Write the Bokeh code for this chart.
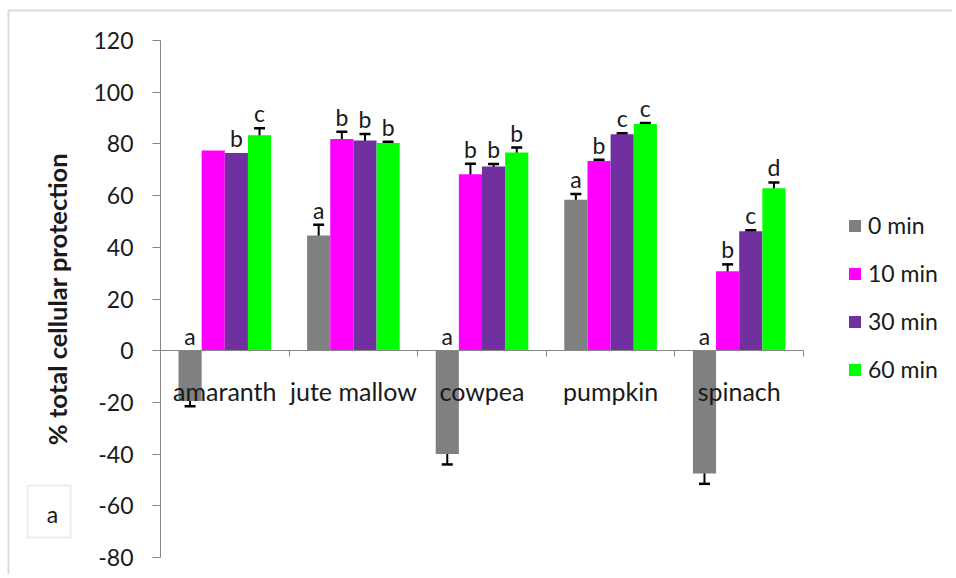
from bokeh.plotting import figure
from bokeh.models import (ColumnDataSource, Whisker, TeeHead, Legend, LegendItem,
                          FixedTicker, BoxAnnotation, Label)
from bokeh.core.properties import value
from bokeh.embed import file_html
from bokeh.resources import INLINE

categories = ["amaranth", "jute mallow", "cowpea", "pumpkin", "spinach"]
series = ["0 min", "10 min", "30 min", "60 min"]
colors = ["#808080", "#FF00FF", "#7030A0", "#00FF00"]

v0 = [-19.5, 44.6, -40.0, 58.4, -47.5]
v10 = [77.4, 81.9, 68.3, 73.4, 30.7]
v30 = [76.5, 81.3, 71.3, 83.7, 46.2]
v60 = [83.3, 80.3, 76.7, 87.7, 62.8]

e0 = [2.0, 4.1, 4.0, 2.2, 4.0]
e10 = [0.0, 2.8, 4.0, 0.5, 2.7]
e30 = [0.0, 2.5, 0.9, 0.4, 0.4]
e60 = [2.8, 0.5, 1.9, 0.4, 2.3]

l0 = ["a", "a", "a", "a", "a"]
l10 = ["", "b", "b", "b", "b"]
l30 = ["b", "b", "b", "c", "c"]
l60 = ["c", "b", "b", "c", "d"]

y_ticks = [-80, -60, -40, -20, 0, 20, 40, 60, 80, 100, 120]

values = [v0, v10, v30, v60]
errors = [e0, e10, e30, e60]
letters = [l0, l10, l30, l60]

FONT = "Lato"
TXT = "#1a1a1a"
AXC = "#868686"

W, H = 952, 574
FL, FR, FT, FB = 160, 803, 40, 557   # plot area in canvas pixels

n = len(categories)
xs_px = (FR - FL) / n
ys_px = (FB - FT) / (y_ticks[-1] - y_ticks[0])
x_range = (-FL / xs_px, n + (W - FR) / xs_px)
y_range = (y_ticks[0] - (H - FB) / ys_px, y_ticks[-1] + FT / ys_px)

p = figure(width=W, height=H, output_backend="svg", toolbar_location=None,
           x_range=x_range, y_range=y_range,
           min_border_left=0, min_border_right=0, min_border_top=0, min_border_bottom=0)
p.outline_line_color = None
p.xgrid.visible = False
p.ygrid.visible = False
p.background_fill_color = "white"

# y axis
p.yaxis.fixed_location = 0
p.yaxis.bounds = (y_ticks[0], y_ticks[-1])
p.yaxis.ticker = FixedTicker(ticks=y_ticks)
p.yaxis.major_label_overrides = {t: str(t) for t in y_ticks}
p.yaxis.axis_line_color = AXC
p.yaxis.major_tick_line_color = AXC
p.yaxis.minor_tick_line_color = None
p.yaxis.major_tick_in = 0
p.yaxis.major_tick_out = 8
p.yaxis.major_label_standoff = 19
p.yaxis.major_label_text_font = FONT
p.yaxis.major_label_text_font_size = "23px"
p.yaxis.major_label_text_color = TXT
p.yaxis.axis_label = "% total cellular protection"
p.yaxis.axis_label_text_font = FONT
p.yaxis.axis_label_text_font_style = "bold"
p.yaxis.axis_label_text_font_size = "25.5px"
p.yaxis.axis_label_text_color = TXT
p.yaxis.axis_label_standoff = 18

# x axis at zero
p.xaxis.fixed_location = 0
p.xaxis.bounds = (0, n)
p.xaxis.ticker = FixedTicker(ticks=list(range(n + 1)))
p.xaxis.major_label_overrides = {i: "" for i in range(n + 1)}
p.xaxis.axis_line_color = AXC
p.xaxis.major_tick_line_color = AXC
p.xaxis.minor_tick_line_color = None
p.xaxis.major_tick_in = 0
p.xaxis.major_tick_out = 6
p.xaxis.major_label_standoff = 0

w = 0.18
items = []
for k, name in enumerate(series):
    xs = [i + 0.5 + (k - 1.5) * w for i in range(n)]
    vals = values[k]
    errs = errors[k]
    src = ColumnDataSource(dict(x=xs, top=vals))
    r = p.vbar(x="x", top="top", bottom=0, width=w, source=src,
               fill_color=colors[k], line_color=None)
    items.append(LegendItem(label=name, renderers=[r]))
    # error bars
    ex = [xs[i] for i in range(n) if errs[i] > 0]
    lo = [vals[i] - errs[i] for i in range(n) if errs[i] > 0]
    hi = [vals[i] + errs[i] for i in range(n) if errs[i] > 0]
    esrc = ColumnDataSource(dict(x=ex, lower=lo, upper=hi))
    wh = Whisker(base="x", lower="lower", upper="upper", source=esrc,
                 line_color="black", line_width=2,
                 upper_head=TeeHead(size=11, line_color="black", line_width=2.5),
                 lower_head=TeeHead(size=11, line_color="black", line_width=2.5))
    p.add_layout(wh)
    # letters
    ly = [max(vals[i] + errs[i], 0) if vals[i] >= 0 else 0 for i in range(n)]
    lsrc = ColumnDataSource(dict(x=xs, y=ly, t=letters[k]))
    p.text(x="x", y="y", text="t", source=lsrc, text_align="center",
           text_baseline="bottom", y_offset=-1, text_font=value(FONT),
           text_font_size="23px", text_color=TXT)

# category labels
csrc = ColumnDataSource(dict(x=[i + 0.5 for i in range(n)], y=[0] * n, t=categories))
p.text(x="x", y="y", text="t", source=csrc, text_align="center", text_baseline="middle",
       y_offset=40, text_font=value(FONT), text_font_size="25px", text_color=TXT)

legend = Legend(items=items, location=(847, H - 383), orientation="vertical",
                padding=0, margin=0, spacing=20, label_height=22,
                glyph_width=15, glyph_height=15, label_standoff=6,
                border_line_color=None, background_fill_alpha=0,
                label_text_font=FONT, label_text_font_size="23px", label_text_color=TXT)
p.add_layout(legend, "center")

# chart outer border and panel box
p.add_layout(BoxAnnotation(left=8, right=1200, top=10, bottom=1200,
                           left_units="canvas", right_units="canvas",
                           top_units="canvas", bottom_units="canvas",
                           fill_alpha=0, line_color="#888888", line_width=2))
p.add_layout(BoxAnnotation(left=27, right=70, top=485, bottom=537,
                           left_units="canvas", right_units="canvas",
                           top_units="canvas", bottom_units="canvas",
                           fill_alpha=0, line_color="#C0C0C0", line_width=2))
p.add_layout(Label(x=52, y=513, x_units="canvas", y_units="canvas", text="a",
                   text_align="center", text_baseline="middle", text_font=FONT,
                   text_font_size="23px", text_color=TXT))

open("out.html", "w").write(file_html(p, INLINE))
